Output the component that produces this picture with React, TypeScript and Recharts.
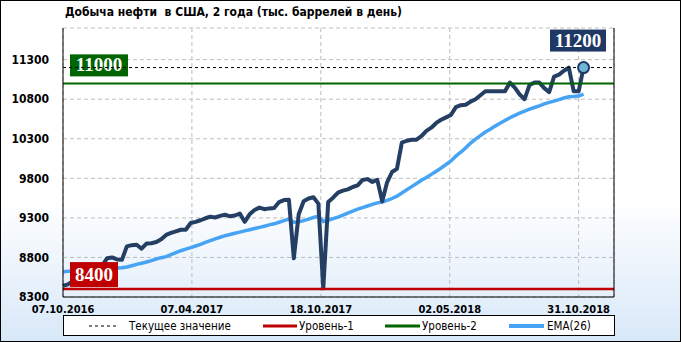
import React from "react";
import {
  CartesianGrid,
  Line,
  LineChart,
  ReferenceDot,
  ReferenceLine,
  XAxis,
  YAxis,
} from "recharts";

// weekly points
const production = [
  8440, 8460, 8500, 8520, 8690, 8680, 8690, 8700, 8700, 8790,
  8800, 8775, 8770, 8940, 8955, 8960, 8910, 8975, 8980, 8995,
  9030, 9085, 9110, 9130, 9150, 9150, 9235, 9250, 9270, 9295,
  9315, 9305, 9325, 9340, 9320, 9330, 9355, 9250, 9345, 9400,
  9430, 9410, 9420, 9425, 9500, 9525, 9530, 8790, 9345, 9510,
  9545, 9560, 9480, 8410, 9500, 9555, 9620, 9645, 9660, 9690,
  9710, 9780, 9790, 9755, 9780, 9510, 9750, 9880, 9920, 10250,
  10275, 10288, 10288, 10335, 10400, 10440, 10500, 10540, 10570, 10600,
  10700, 10725, 10730, 10770, 10800, 10850, 10900, 10900, 10900, 10900,
  10900, 11010, 10946, 10860, 10800, 10980, 11010, 11010, 10940, 10890,
  11085, 11110, 11160, 11200, 10900, 10900, 11200,
];

const ema26 = [
  8620, 8625, 8630, 8638, 8643, 8646, 8650, 8652, 8655, 8658,
  8662, 8666, 8670, 8680, 8695, 8712, 8726, 8742, 8760, 8780,
  8797, 8810, 8835, 8860, 8885, 8905, 8925, 8945, 8965, 8990,
  9012, 9035, 9055, 9075, 9090, 9105, 9120, 9136, 9150, 9165,
  9180, 9195, 9212, 9225, 9245, 9265, 9285, 9245, 9250, 9265,
  9285, 9305, 9320, 9255, 9270, 9290, 9310, 9335, 9360, 9385,
  9410, 9430, 9450, 9470, 9490, 9500, 9520, 9545, 9575, 9615,
  9655, 9695, 9735, 9775, 9810, 9850, 9890, 9930, 9975, 10020,
  10080, 10130, 10185, 10245, 10295, 10340, 10385, 10420, 10460, 10495,
  10530, 10565, 10595, 10625, 10650, 10675, 10695, 10715, 10740, 10760,
  10775, 10795, 10815, 10830, 10835, 10840, 10865,
];

const dateTicks = [0, 26.25, 52.5, 78.75, 105];
const dateLabels = ["07.10.2016", "07.04.2017", "18.10.2017", "02.05.2018", "31.10.2018"];
const valueTicks = [8300, 8800, 9300, 9800, 10300, 10800, 11300];

const currentValue = 11200;
const level1 = 8400;
const level2 = 11000;

const data = production.map((v, i) => ({ i, prod: v, ema: ema26[i] }));
const last = data[data.length - 1];

const NAVY = "#243F63";
const BLUE = "#47A3F3";
const RED = "#C00000";
const GREEN = "#006400";
const SANS = "'DejaVu Sans Condensed', 'DejaVu Sans', sans-serif";

function Tag(props: any) {
  const { viewBox, text, fill, w, h, dy, right } = props;
  const x = right ? viewBox.x + viewBox.width - right - w : viewBox.x + 7;
  const y = viewBox.y - dy;
  return (
    <g>
      <rect x={x} y={y} width={w} height={h} fill={fill} />
      <text
        x={x + w / 2}
        y={y + h / 2 + 6}
        textAnchor="middle"
        fill="#fff"
        fontFamily="'Liberation Serif', serif"
        fontWeight="bold"
        fontSize={19}
      >
        {text}
      </text>
    </g>
  );
}

function DateTick(props: any) {
  const { x, y, payload } = props;
  const idx = dateTicks.indexOf(payload.value);
  return (
    <text
      x={x}
      y={y + 8}
      textAnchor="middle"
      fill="#000"
      fontSize={11}
      fontWeight="bold"
      fontFamily={SANS}
    >
      {dateLabels[idx] ?? ""}
    </text>
  );
}

const legendItems = [
  { name: "Текущее значение", color: "#000", dash: "3 3", width: 1, x: 25, lw: 30, gap: 10 },
  { name: "Уровень-1", color: RED, dash: "", width: 3, x: 199, lw: 34, gap: 2 },
  { name: "Уровень-2", color: GREEN, dash: "", width: 3, x: 321, lw: 35, gap: 2 },
  { name: "EMA(26)", color: BLUE, dash: "", width: 4, x: 445, lw: 35, gap: 3 },
];

export default function App() {
  return (
    <div
      style={{
        position: "absolute",
        left: 0,
        top: 0,
        width: 681,
        height: 342,
        boxSizing: "border-box",
        border: "1px solid #000",
        background: "linear-gradient(to bottom, #ffffff 0%, #ffffff 58%, #d8e8f8 100%)",
        fontFamily: SANS,
      }}
    >
      <div
        style={{
          position: "absolute",
          left: 64,
          top: 4,
          fontSize: 12,
          fontWeight: "bold",
          color: "#000",
          whiteSpace: "pre",
        }}
      >
        {"Добыча нефти  в США, 2 года (тыс. баррелей в день)"}
      </div>
      <div style={{ position: "absolute", left: -1, top: -1 }}>
        <LineChart
          width={681}
          height={342}
          data={data}
          margin={{ top: 28, right: 0, bottom: 25, left: 0 }}
        >
          <CartesianGrid stroke="#bdbdbd" strokeDasharray="4 3" yAxisId="left" />
          <XAxis
            dataKey="i"
            type="number"
            domain={[0, 112.2]}
            ticks={dateTicks}
            interval={0}
            height={20}
            stroke="#000"
            tickLine={false}
            tick={<DateTick />}
          />
          <XAxis
            xAxisId="top"
            orientation="top"
            dataKey="i"
            type="number"
            domain={[0, 112.2]}
            height={0}
            tick={false}
            tickLine={false}
            stroke="#000"
          />
          <YAxis
            yAxisId="left"
            domain={[8300, 11700]}
            ticks={valueTicks}
            interval={0}
            width={63}
            stroke="#000"
            tickLine={false}
            tickMargin={8}
            tick={{ fill: "#000", fontSize: 12, fontWeight: "bold", fontFamily: SANS }}
          />
          <YAxis
            yAxisId="right"
            orientation="right"
            domain={[8300, 11700]}
            ticks={valueTicks}
            interval={0}
            width={67}
            stroke="#000"
            tickLine={false}
            tickMargin={7}
            tick={{ fill: "#000", fontSize: 12, fontWeight: "bold", fontFamily: SANS, textAnchor: "start" }}
          />
          <Line
            yAxisId="left"
            type="linear"
            dataKey="ema"
            stroke={BLUE}
            strokeWidth={3.5}
            dot={false}
            isAnimationActive={false}
          />
          <Line
            yAxisId="left"
            type="linear"
            dataKey="prod"
            stroke={NAVY}
            strokeWidth={4}
            strokeLinejoin="round"
            dot={false}
            isAnimationActive={false}
          />
          <ReferenceLine
            yAxisId="left"
            y={level1}
            stroke={RED}
            strokeWidth={2.5}
            label={<Tag text={String(level1)} fill={RED} w={48} h={25} dy={27} />}
          />
          <ReferenceLine
            yAxisId="left"
            y={level2}
            stroke={GREEN}
            strokeWidth={2}
            label={<Tag text={String(level2)} fill={GREEN} w={58} h={22} dy={29} />}
          />
          <ReferenceLine
            yAxisId="left"
            y={currentValue}
            stroke="#000"
            strokeDasharray="3 3"
            label={<Tag text={String(currentValue)} fill="#1F3864" w={56} h={22} dy={38} right={8} />}
          />
          <ReferenceDot
            yAxisId="left"
            x={last.i}
            y={last.prod}
            r={5.5}
            fill="#6DB8D6"
            stroke="#1F3864"
            strokeWidth={2}
          />
        </LineChart>
      </div>
      <div
        style={{
          position: "absolute",
          left: 62,
          top: 314,
          width: 552,
          height: 21,
          boxSizing: "border-box",
          border: "1px solid #000",
          background: "#fff",
        }}
      >
        {legendItems.map((it) => (
          <div
            key={it.name}
            style={{
              position: "absolute",
              left: it.x,
              top: 0,
              height: 19,
              display: "flex",
              alignItems: "center",
              fontSize: 11.5,
              color: "#000",
            }}
          >
            <svg width={it.lw} height={6} style={{ marginRight: it.gap }}>
              <line
                x1={0}
                y1={3}
                x2={it.lw}
                y2={3}
                stroke={it.color}
                strokeWidth={it.width}
                strokeDasharray={it.dash || undefined}
              />
            </svg>
            <span>{it.name}</span>
          </div>
        ))}
      </div>
    </div>
  );
}
